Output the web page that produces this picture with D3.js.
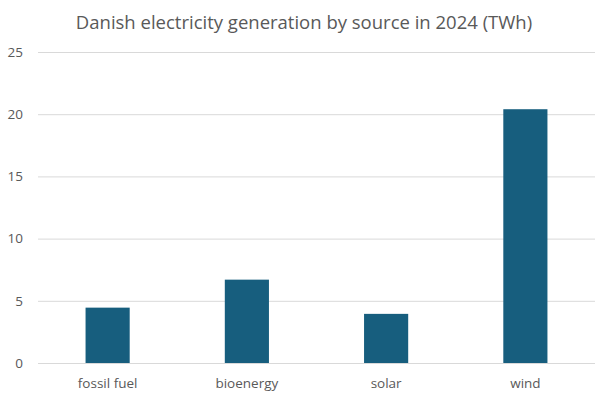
<!DOCTYPE html>
<html>
<head>
<meta charset="utf-8">
<script src="https://cdn.jsdelivr.net/npm/d3@7"></script>
<style>
  html, body { margin: 0; padding: 0; background: #fff; }
  svg { display: block; font-family: "Open Sans", "Noto Sans", sans-serif; }
  .grid line { stroke: #d9d9d9; stroke-width: 1; }
  .tick-label { fill: #595959; font-size: 13.5px; font-family: "Open Sans", "Noto Sans", sans-serif; }
  .chart-title { fill: #595959; font-size: 18.5px; }
  .bar { fill: #175e7e; }
</style>
</head>
<body>
<svg id="chart"></svg>
<script>
// chart data
const sources = ["fossil fuel", "bioenergy", "solar", "wind"];
const generationTWh = [4.45, 6.7, 3.95, 20.4];
const yTicks = [0, 5, 10, 15, 20, 25];
const title = "Danish electricity generation by source in 2024 (TWh)";

const width = 606;
const height = 399;
const margin = { top: 52, right: 11, bottom: 36, left: 38 };

const svg = d3.select("#chart").attr("width", width).attr("height", height);

const x = d3.scaleBand()
  .domain(sources)
  .range([margin.left, width - margin.right])
  .paddingInner(0.683)
  .paddingOuter(0.683 / 2);

const y = d3.scaleLinear()
  .domain([0, 25])
  .range([height - margin.bottom, margin.top]);

// strip the default axis font so the CSS font is used
function cleanAxis(g) {
  g.attr("font-family", null).attr("font-size", null);
  g.select(".domain").remove();
  g.selectAll("text").attr("class", "tick-label");
}

// title
svg.append("text")
  .attr("class", "chart-title")
  .attr("x", 304)
  .attr("y", 29)
  .attr("text-anchor", "middle")
  .text(title);

// gridlines
svg.append("g")
  .attr("class", "grid")
  .attr("transform", `translate(${margin.left},0)`)
  .call(d3.axisLeft(y).tickValues(yTicks).tickSize(-(width - margin.left - margin.right)).tickFormat(""))
  .call(cleanAxis);

// y labels
svg.append("g")
  .attr("transform", `translate(23,0)`)
  .call(d3.axisLeft(y).tickValues(yTicks).tickSize(0).tickPadding(0))
  .call(cleanAxis);

// bars
svg.append("g")
  .selectAll("rect")
  .data(sources)
  .join("rect")
  .attr("class", "bar")
  .attr("x", (d) => x(d))
  .attr("width", x.bandwidth())
  .attr("y", (d, i) => y(generationTWh[i]))
  .attr("height", (d, i) => y(0) - y(generationTWh[i]));

// x labels
svg.append("g")
  .attr("transform", `translate(0,${height - margin.bottom})`)
  .call(d3.axisBottom(x).tickSize(0).tickPadding(15))
  .call(cleanAxis);
</script>
</body>
</html>
